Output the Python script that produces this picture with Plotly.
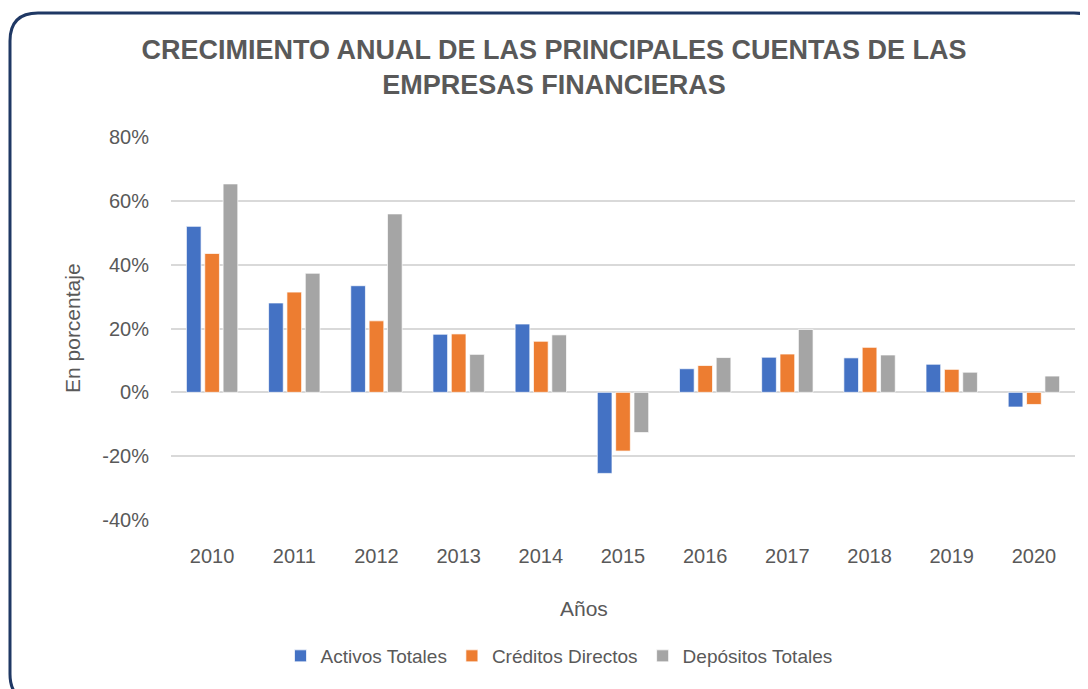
import plotly.graph_objects as go

years = ["2010", "2011", "2012", "2013", "2014", "2015", "2016", "2017", "2018", "2019", "2020"]
activos = [52.0, 28.0, 33.4, 18.2, 21.4, -25.4, 7.4, 11.0, 10.8, 8.8, -4.6]
creditos = [43.5, 31.4, 22.4, 18.3, 16.0, -18.4, 8.4, 12.0, 14.1, 7.2, -3.8]
depositos = [65.3, 37.3, 55.9, 11.9, 18.0, -12.6, 10.9, 19.7, 11.7, 6.3, 5.1]
series_names = ["Activos Totales", "Créditos Directos", "Depósitos Totales"]
colors = ["#4472C4", "#ED7D31", "#A5A5A5"]
y_ticks = [-40, -20, 0, 20, 40, 60, 80]
y_ticktext = ["-40%", "-20%", "0%", "20%", "40%", "60%", "80%"]

# page body has an 8px margin, so the figure is drawn 8px in from the window edge
W, H = 1080, 681
ML, MR, MT, MB = 163, 13, 129, 169
PW, PH = W - ML - MR, H - MT - MB
FONT = "Liberation Sans, Arial, sans-serif"
TXT = "#595959"

fig = go.Figure()
for name, vals, col in zip(series_names, [activos, creditos, depositos], colors):
    fig.add_trace(go.Bar(x=years, y=vals, name=name,
                         marker=dict(color=col, line=dict(color="rgba(255,255,255,0.7)", width=1))))

def px2paper(px, py):
    return (px - ML) / PW, (H - MB - py) / PH

def border_path(x0, y0, x1, y1, r):
    pts = [("M", [(x0 + r, y0)]), ("L", [(x1 - r, y0)]), ("Q", [(x1, y0), (x1, y0 + r)]),
           ("L", [(x1, y1 - r)]), ("Q", [(x1, y1), (x1 - r, y1)]), ("L", [(x0 + r, y1)]),
           ("Q", [(x0, y1), (x0, y1 - r)]), ("L", [(x0, y0 + r)]), ("Q", [(x0, y0), (x0 + r, y0)])]
    s = ""
    for cmd, ps in pts:
        s += cmd + " " + " ".join("%.5f,%.5f" % px2paper(a, b) for a, b in ps) + " "
    return s + "Z"

fig.add_shape(type="path", xref="paper", yref="paper",
              path=border_path(2, 5, 1094, 694, 28),
              line=dict(color="#1F3864", width=3), layer="above")

lx, ly = px2paper(551, 648)
fig.update_layout(
    width=W, height=H,
    margin=dict(l=ML, r=MR, t=MT, b=MB),
    paper_bgcolor="white", plot_bgcolor="white",
    font=dict(family=FONT, color=TXT, size=20),
    title=dict(text="CRECIMIENTO ANUAL DE LAS PRINCIPALES CUENTAS DE LAS<br>EMPRESAS FINANCIERAS",
               x=546 / W, xanchor="center", y=1 - 51 / H, yanchor="middle",
               font=dict(family=FONT, size=27, color=TXT, weight="bold")),
    barmode="group", bargap=0.33, bargroupgap=0.2,
    showlegend=True,
    legend=dict(orientation="h", x=lx, xanchor="center", y=ly, yanchor="middle",
                font=dict(size=19, color=TXT, family=FONT), itemwidth=30, traceorder="normal"),
    xaxis=dict(showgrid=False, showline=False, ticks="outside", ticklen=18,
               tickcolor="rgba(0,0,0,0)", tickfont=dict(size=20, color=TXT)),
    yaxis=dict(range=[-40, 80], tickvals=y_ticks, ticktext=y_ticktext, showgrid=True,
               gridcolor="#D9D9D9", gridwidth=1.5, zeroline=True, zerolinecolor="#D9D9D9",
               zerolinewidth=1.5, showline=False, ticks="outside", ticklen=17,
               tickcolor="rgba(0,0,0,0)", tickfont=dict(size=20, color=TXT)),
)

ax, ay = px2paper(64, 320)
fig.add_annotation(text="En porcentaje", x=ax, y=ay, xref="paper", yref="paper", textangle=-90,
                   xanchor="center", yanchor="middle",
                   showarrow=False, font=dict(size=21, color=TXT, family=FONT))
ax, ay = px2paper(576, 600)
fig.add_annotation(text="Años", x=ax, y=ay, xref="paper", yref="paper",
                   xanchor="center", yanchor="middle",
                   showarrow=False, font=dict(size=21, color=TXT, family=FONT))

fig.write_html("out.html")
